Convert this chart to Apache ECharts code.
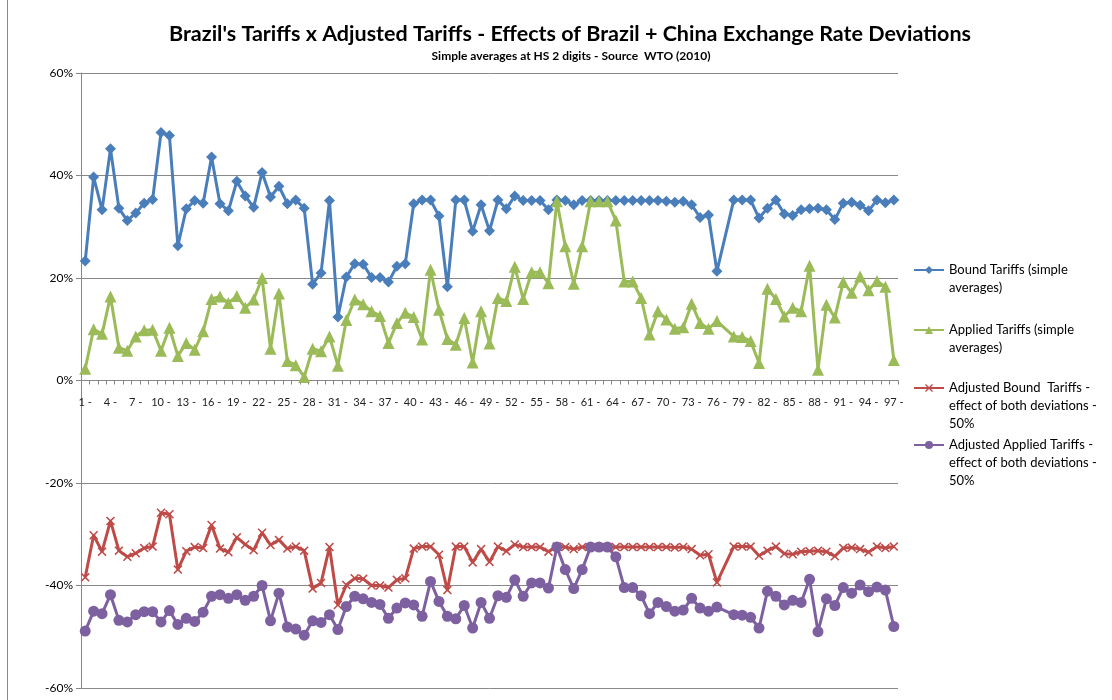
<!DOCTYPE html>
<html lang="en">
<head>
<meta charset="UTF-8">
<title>Brazil's Tariffs x Adjusted Tariffs</title>
<script src="https://cdn.jsdelivr.net/npm/echarts@6/dist/echarts.min.js"></script>
<style>
  * { margin: 0; padding: 0; box-sizing: border-box; }
  body { background: #fff; }
  #chart { width: 1112px; height: 700px; }
</style>
</head>
<body>
<div id="chart"></div>
<script>
// HS 2-digit chapters (77 is reserved, left empty)
const chapters = [];
for (let i = 1; i <= 97; i++) chapters.push(i + ' -');

const boundTariffs = [
  23.3, 39.7, 33.3, 45.2, 33.6, 31.2, 32.7, 34.6, 35.3, 48.4,
  47.8, 26.3, 33.5, 35.1, 34.6, 43.6, 34.5, 33.1, 38.9, 36.0,
  33.8, 40.6, 35.8, 37.9, 34.5, 35.2, 33.6, 18.8, 21.0, 35.1,
  12.4, 20.2, 22.8, 22.7, 20.1, 20.1, 19.2, 22.3, 22.8, 34.5,
  35.2, 35.2, 32.1, 18.3, 35.2, 35.2, 29.1, 34.3, 29.2, 35.2,
  33.5, 36.0, 35.1, 35.1, 35.1, 33.3, 35.2, 35.1, 34.3, 35.1,
  35.1, 35.1, 35.1, 35.1, 35.1, 35.1, 35.1, 35.1, 35.1, 35.0,
  34.8, 35.0, 34.3, 31.8, 32.3, 21.3, null, 35.2, 35.2, 35.2,
  31.7, 33.6, 35.2, 32.5, 32.2, 33.3, 33.5, 33.6, 33.3, 31.4,
  34.6, 34.8, 34.2, 33.1, 35.2, 34.7, 35.2
];

const appliedTariffs = [
  2.3, 10.0, 9.1, 16.4, 6.4, 5.8, 8.6, 9.8, 9.9, 5.8,
  10.3, 4.8, 7.3, 6.0, 9.6, 15.9, 16.4, 15.1, 16.5, 14.2,
  15.8, 20.0, 6.2, 17.0, 3.8, 3.0, 0.7, 6.2, 5.7, 8.6,
  2.9, 11.8, 15.8, 14.9, 13.5, 12.6, 7.3, 11.2, 13.2, 12.4,
  8.0, 21.6, 13.8, 8.1, 7.0, 12.2, 3.5, 13.5, 7.2, 16.1,
  15.5, 22.2, 15.9, 21.1, 21.1, 19.0, 35.0, 26.2, 18.9, 26.2,
  35.0, 35.0, 35.0, 31.2, 19.3, 19.3, 16.1, 9.0, 13.5, 11.9,
  10.1, 10.4, 15.0, 11.2, 10.1, 11.6, null, 8.6, 8.5, 7.7,
  3.4, 17.9, 15.9, 12.5, 14.2, 13.5, 22.4, 2.1, 14.8, 12.3,
  19.2, 17.1, 20.3, 17.6, 19.4, 18.3, 4.0
];

const adjBoundTariffs = [
  -38.4, -30.2, -33.4, -27.4, -33.2, -34.4, -33.7, -32.7, -32.4, -25.8,
  -26.1, -36.9, -33.3, -32.5, -32.7, -28.2, -32.8, -33.5, -30.6, -32.0,
  -33.1, -29.7, -32.1, -31.1, -32.8, -32.4, -33.2, -40.6, -39.5, -32.5,
  -43.8, -39.9, -38.6, -38.7, -40.0, -40.0, -40.4, -38.9, -38.6, -32.8,
  -32.4, -32.4, -34.0, -40.9, -32.4, -32.4, -35.5, -32.9, -35.4, -32.4,
  -33.3, -32.0, -32.5, -32.5, -32.5, -33.4, -32.4, -32.5, -32.9, -32.5,
  -32.5, -32.5, -32.5, -32.5, -32.5, -32.5, -32.5, -32.5, -32.5, -32.5,
  -32.6, -32.5, -32.9, -34.1, -33.9, -39.4, null, -32.4, -32.4, -32.4,
  -34.2, -33.2, -32.4, -33.8, -33.9, -33.4, -33.3, -33.2, -33.4, -34.3,
  -32.7, -32.6, -32.9, -33.5, -32.4, -32.7, -32.4
];

const adjAppliedTariffs = [
  -48.9, -45.0, -45.5, -41.8, -46.8, -47.1, -45.7, -45.1, -45.1, -47.1,
  -44.9, -47.6, -46.4, -47.0, -45.2, -42.1, -41.8, -42.5, -41.8, -42.9,
  -42.1, -40.0, -46.9, -41.5, -48.1, -48.5, -49.7, -46.9, -47.2, -45.7,
  -48.6, -44.1, -42.1, -42.6, -43.3, -43.7, -46.4, -44.4, -43.4, -43.8,
  -46.0, -39.2, -43.1, -46.0, -46.5, -43.9, -48.3, -43.3, -46.4, -42.0,
  -42.3, -38.9, -42.1, -39.5, -39.5, -40.5, -32.5, -36.9, -40.6, -36.9,
  -32.5, -32.5, -32.5, -34.4, -40.4, -40.4, -42.0, -45.5, -43.3, -44.1,
  -45.0, -44.8, -42.5, -44.4, -45.0, -44.2, null, -45.7, -45.8, -46.2,
  -48.3, -41.1, -42.1, -43.8, -42.9, -43.3, -38.8, -49.0, -42.6, -43.9,
  -40.4, -41.5, -39.9, -41.2, -40.3, -40.9, -48.0
];

const seriesNames = [
  'Bound Tariffs (simple averages)',
  'Applied Tariffs (simple averages)',
  'Adjusted Bound Tariffs - effect of both deviations - 50%',
  'Adjusted Applied Tariffs - effect of both deviations - 50%'
];
// wrapped legend text; leading blank lines keep the icon on the first line
const legendText = [
  '\nBound Tariffs (simple\naverages)',
  '\nApplied Tariffs (simple\naverages)',
  '\n\nAdjusted Bound  Tariffs -\neffect of both deviations -\n50%',
  '\n\nAdjusted Applied Tariffs -\neffect of both deviations -\n50%'
];
const colors = ['#4A7EBB', '#9BBB59', '#BE4B48', '#7D60A0'];

const FONT = 'Lato, "Noto Sans", sans-serif';
const xShape = 'path://M0,1.2 L1.2,0 L5,3.8 L8.8,0 L10,1.2 L6.2,5 L10,8.8 L8.8,10 L5,6.2 L1.2,10 L0,8.8 L3.8,5 Z';
const symbols = ['diamond', 'triangle', xShape, 'circle'];
const symbolSizes = [11, 12, 9, 11];

const chart = echarts.init(document.getElementById('chart'));

const legendTops = [243, 303, 343, 400];
const legends = seriesNames.map((name, i) => ({
  data: [name],
  orient: 'vertical',
  left: 913,
  top: legendTops[i],
  padding: 0,
  itemWidth: 30,
  itemHeight: 10,
  itemGap: 0,
  formatter: () => legendText[i],
  textStyle: { fontFamily: FONT, fontSize: 13, color: '#000', lineHeight: 18 }
}));

const option = {
  animation: false,
  title: [{
    text: "Brazil's Tariffs x Adjusted Tariffs - Effects of Brazil + China Exchange Rate Deviations",
    left: 565,
    top: 18,
    textAlign: 'center',
    textStyle: { fontFamily: FONT, fontSize: 21.5, fontWeight: 'bold', color: '#000' }
  }, {
    text: 'Simple averages at HS 2 digits - Source  WTO (2010)',
    left: 566,
    top: 45,
    textAlign: 'center',
    textStyle: { fontFamily: FONT, fontSize: 12, fontWeight: 'bold', color: '#000' }
  }],
  legend: legends,
  grid: { left: 81, right: 214, top: 73, bottom: 12, containLabel: false, outerBoundsMode: 'none' },
  xAxis: {
    type: 'category',
    data: chapters,
    boundaryGap: true,
    offset: -307.5,
    axisLine: { onZero: false, lineStyle: { color: '#868686', width: 1 } },
    axisTick: { show: true, interval: 0, length: 4, inside: false, lineStyle: { color: '#868686' } },
    axisLabel: { interval: 2, fontFamily: FONT, fontSize: 11, color: '#222', margin: 16 },
    splitLine: { show: false }
  },
  yAxis: {
    type: 'value',
    min: -60,
    max: 60,
    interval: 20,
    axisLine: { show: true, lineStyle: { color: '#868686' } },
    axisTick: { show: true, length: 5, lineStyle: { color: '#868686' } },
    axisLabel: { formatter: '{value}%', fontFamily: FONT, fontSize: 12, color: '#000', margin: 8 },
    splitLine: { lineStyle: { color: '#888', width: 1 } }
  },
  series: seriesNames.map((name, i) => ({
    name: name,
    type: 'line',
    data: [boundTariffs, appliedTariffs, adjBoundTariffs, adjAppliedTariffs][i],
    connectNulls: true,
    symbol: symbols[i],
    symbolSize: symbolSizes[i],
    showAllSymbol: true,
    color: colors[i],
    lineStyle: { width: 3, color: colors[i] },
    itemStyle: { color: colors[i] }
  })),
  graphic: [{
    type: 'line',
    shape: { x1: 7.5, y1: 0, x2: 7.5, y2: 700 },
    style: { stroke: '#888', lineWidth: 1 }
  }]
};

chart.setOption(option);
</script>
</body>
</html>
